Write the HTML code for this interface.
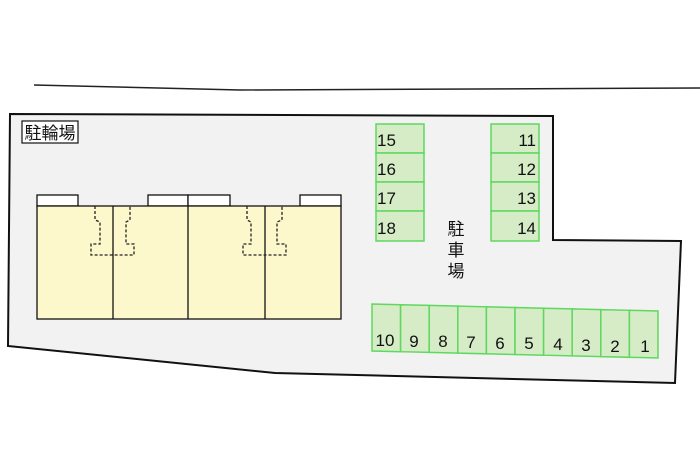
<!DOCTYPE html>
<html><head><meta charset="utf-8"><style>body{margin:0;background:#fff}svg{display:block}</style></head><body>
<svg width="700" height="466" viewBox="0 0 700 466" xmlns="http://www.w3.org/2000/svg" font-family="Liberation Sans, Noto Sans CJK JP, sans-serif">
<rect width="700" height="466" fill="#fff"/>
<polyline points="34,85 240,90 700,88" fill="none" stroke="#222" stroke-width="1.5"/>
<polygon points="10,114 553,116 553,240 681,241 675,383 275,373 8,346" fill="#f2f2f2" stroke="#111" stroke-width="2"/>
<rect x="22" y="121" width="56" height="22" fill="#fff" stroke="#111" stroke-width="1.2"/>
<text x="50" y="139" font-size="17" text-anchor="middle" fill="#111">駐輪場</text>
<g stroke="#111" stroke-width="1.3">
<rect x="37" y="195" width="41" height="11" fill="#fff"/>
<rect x="148" y="195" width="40" height="11" fill="#fff"/>
<rect x="188" y="195" width="42" height="11" fill="#fff"/>
<rect x="300" y="195" width="41" height="11" fill="#fff"/>
<rect x="37" y="206" width="304" height="113" fill="#fdf8cc"/>
<line x1="113" y1="206" x2="113" y2="319"/>
<line x1="188" y1="206" x2="188" y2="319"/>
<line x1="265" y1="206" x2="265" y2="319"/>
</g>
<g fill="none" stroke="#222" stroke-width="1.3" stroke-dasharray="3,2">
<polyline points="95,206 95,220 100,222 100,244 91,244 91,255 134,255 134,244 126,244 126,222 130,220 130,206"/>
<polyline points="247,206 247,220 251,222 251,244 243,244 243,255 286,255 286,244 277,244 277,222 282,220 282,206"/>
</g>
<g fill="#d5ecc6" stroke="#5fd85f" stroke-width="1.5" font-size="17">
<rect x="376" y="124" width="48" height="29"/><rect x="376" y="153" width="48" height="29"/>
<rect x="376" y="182" width="48" height="29"/><rect x="376" y="211" width="48" height="30"/>
<rect x="491" y="124" width="48" height="29"/><rect x="491" y="153" width="48" height="29"/>
<rect x="491" y="182" width="48" height="29"/><rect x="491" y="211" width="48" height="30"/>
<polygon points="372,304 400.6,304.7 400.6,351.7 372,351"/>
<polygon points="400.6,304.7 429.2,305.4 429.2,352.4 400.6,351.7"/>
<polygon points="429.2,305.4 457.8,306.1 457.8,353.1 429.2,352.4"/>
<polygon points="457.8,306.1 486.4,306.8 486.4,353.8 457.8,353.1"/>
<polygon points="486.4,306.8 515,307.5 515,354.5 486.4,353.8"/>
<polygon points="515,307.5 543.6,308.2 543.6,355.2 515,354.5"/>
<polygon points="543.6,308.2 572.2,308.9 572.2,355.9 543.6,355.2"/>
<polygon points="572.2,308.9 600.8,309.6 600.8,356.6 572.2,355.9"/>
<polygon points="600.8,309.6 629.4,310.3 629.4,357.3 600.8,356.6"/>
<polygon points="629.4,310.3 658,311 658,358 629.4,357.3"/>
</g>
<g fill="#111" font-size="17" stroke="none">
<text x="377" y="146">15</text><text x="377" y="175">16</text><text x="377" y="204">17</text><text x="377" y="234">18</text>
<text x="536" y="146" text-anchor="end">11</text><text x="536" y="175" text-anchor="end">12</text><text x="536" y="204" text-anchor="end">13</text><text x="536" y="234" text-anchor="end">14</text>
<g text-anchor="middle">
<text x="385" y="346">10</text><text x="414" y="347">9</text><text x="443" y="347">8</text><text x="471" y="348">7</text><text x="500" y="349">6</text><text x="529" y="349">5</text><text x="558" y="350">4</text><text x="586" y="351">3</text><text x="615" y="352">2</text><text x="645" y="352">1</text>
</g>
<text x="456" y="235" font-size="17" text-anchor="middle">駐</text>
<text x="456" y="256" font-size="17" text-anchor="middle">車</text>
<text x="456" y="277" font-size="17" text-anchor="middle">場</text>
</g>
</svg>
</body></html>
